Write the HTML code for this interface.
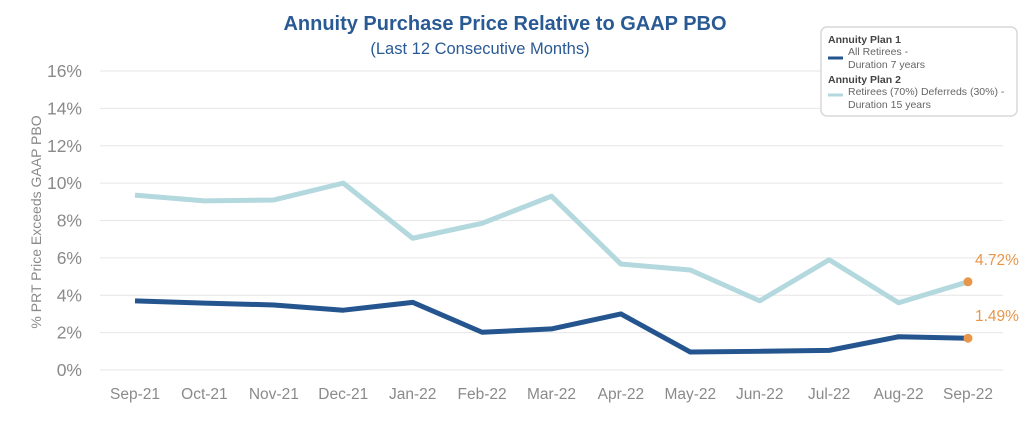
<!DOCTYPE html>
<html><head><meta charset="utf-8"><style>
body{margin:0;background:#fff;font-family:"Liberation Sans",sans-serif}
svg{display:block}
</style></head><body>
<svg id="chart" width="1024" height="427">
<text x="505" y="30" text-anchor="middle" font-size="20" font-weight="bold" fill="#2a5a94">Annuity Purchase Price Relative to GAAP PBO</text>
<text x="480" y="54" text-anchor="middle" font-size="16.5" fill="#2a5a94">(Last 12 Consecutive Months)</text>
<text transform="translate(41,222) rotate(-90)" text-anchor="middle" font-size="14" fill="#8a8a8a">% PRT Price Exceeds GAAP PBO</text>
<g id="grid"></g><g id="lines"></g>
<g>
<rect x="821" y="27" width="196" height="89" rx="6" fill="#fff" stroke="#d8d8d8" stroke-width="1.5"/>
<text x="828" y="43" font-size="10.5" font-weight="bold" fill="#444">Annuity Plan 1</text>
<line x1="828" y1="58" x2="843" y2="58" stroke="#24558f" stroke-width="3"/>
<text x="848" y="55" font-size="10.5" fill="#666">All Retirees -</text>
<text x="848" y="68" font-size="10.5" fill="#666">Duration 7 years</text>
<text x="828" y="83" font-size="10.5" font-weight="bold" fill="#444">Annuity Plan 2</text>
<line x1="828" y1="95" x2="843" y2="95" stroke="#b3d8de" stroke-width="3"/>
<text x="848" y="95" font-size="10.5" fill="#666">Retirees (70%) Deferreds (30%) -</text>
<text x="848" y="108" font-size="10.5" fill="#666">Duration 15 years</text>
</g>
</svg>
<script>
const categories=["Sep-21","Oct-21","Nov-21","Dec-21","Jan-22","Feb-22","Mar-22","Apr-22","May-22","Jun-22","Jul-22","Aug-22","Sep-22"];
const plan1=[3.7,3.58,3.48,3.2,3.62,2.02,2.2,3.0,0.96,1.0,1.05,1.78,1.7];
const plan2=[9.36,9.05,9.1,10.0,7.05,7.85,9.3,5.67,5.35,3.7,5.9,3.6,4.72];
const yTicks=[0,2,4,6,8,10,12,14,16];
const endLabels=["1.49%","4.72%"];
const NS="http://www.w3.org/2000/svg";
const x=i=>135+i*(968-135)/(categories.length-1);
const y=v=>370-v*(370-71)/16;
function mk(tag,attrs,parent){const e=document.createElementNS(NS,tag);for(const k in attrs)e.setAttribute(k,attrs[k]);parent.appendChild(e);return e;}
const grid=document.getElementById('grid'),lines=document.getElementById('lines');
yTicks.forEach(t=>{
 const l=mk('line',{x1:100,x2:1003,y1:y(t),y2:y(t),stroke:'#e6e6e6','stroke-width':1},grid);
 
 
 const tx=mk('text',{x:82,y:y(t)+6,'text-anchor':'end','font-size':17.5,fill:'#8a8a8a'},grid);
 tx.textContent=t+'%';
 
 
});
categories.forEach((c,i)=>{
 const tx=mk('text',{x:x(i),y:399,'text-anchor':'middle','font-size':15.5,fill:'#8a8a8a'},grid);
 tx.textContent=c;
 
 
});
[[plan2,'#b3d8de','plan2-line',endLabels[1]],[plan1,'#24558f','plan1-line',endLabels[0]]].forEach(([d,col,name,lab])=>{
 const p=mk('polyline',{points:d.map((v,i)=>x(i)+','+y(v)).join(' '),fill:'none',stroke:col,'stroke-width':5,'stroke-linejoin':'round'},lines);
 
 
 const n=d.length-1;
 const c=mk('circle',{cx:x(n),cy:y(d[n]),r:4.5,fill:'#e8964a'},lines);
 
 
 const t=mk('text',{x:x(n)+7,y:y(d[n])-17,'font-size':15.5,fill:'#e8964a'},lines);
 t.textContent=lab;
 
 
});
</script>
</body></html>
